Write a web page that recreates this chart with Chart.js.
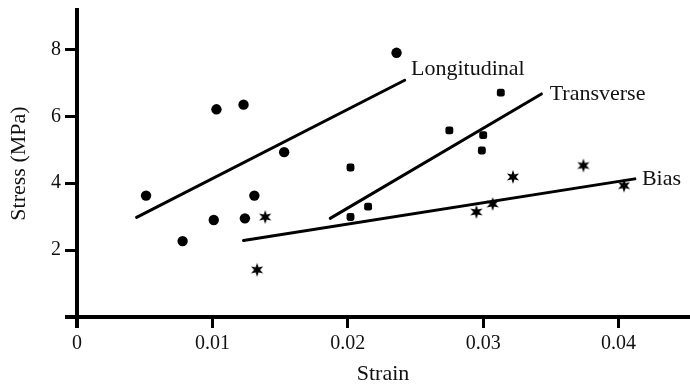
<!DOCTYPE html>
<html>
<head>
<meta charset="utf-8">
<script src="https://cdn.jsdelivr.net/npm/chart.js@4.4.1/dist/chart.umd.min.js"></script>
<style>
html,body{margin:0;padding:0;background:#fff;overflow:hidden}
#wrap{width:697px;height:388px;position:relative}
</style>
</head>
<body>
<div id="wrap"><canvas id="chart"></canvas></div>
<script>
// axis ticks
const xTicks=[0,0.01,0.02,0.03,0.04];
const yTicks=[0,2,4,6,8];
const xMax=0.0452, yMax=9.18;

// measured points
const longX=[0.0051,0.0078,0.0103,0.0101,0.0123,0.0124,0.0131,0.0153,0.0236];
const longY=[3.63,2.27,6.21,2.90,6.35,2.95,3.63,4.93,7.90];
const transX=[0.0202,0.0202,0.0215,0.0275,0.0300,0.0299,0.0313];
const transY=[2.99,4.47,3.30,5.58,5.44,4.98,6.71];
const biasX=[0.0133,0.0139,0.0295,0.0307,0.0322,0.0374,0.0404];
const biasY=[1.41,2.99,3.14,3.38,4.19,4.53,3.93];

// fitted lines (end points)
const longFitX=[0.0044,0.0242], longFitY=[2.98,7.08];
const transFitX=[0.0187,0.0343], transFitY=[2.95,6.67];
const biasFitX=[0.0123,0.0412], biasFitY=[2.29,4.13];

// curve labels, anchored at text baseline start
const labelText=["Longitudinal","Transverse","Bias"];
const labelX=[0.02467,0.03491,0.04172];
const labelY=[7.24,6.49,3.94];

const FONT="'Liberation Serif','Times New Roman',serif";
const pts=(xs,ys)=>xs.map((x,i)=>({x,y:ys[i]}));

// six pointed star marker
const star=document.createElement("canvas");
star.width=16; star.height=16;
(()=>{const c=star.getContext("2d"); c.fillStyle="#000"; c.beginPath();
  for(let i=0;i<12;i++){const r=i%2?3:7, a=-Math.PI/2+i*Math.PI/6;
    const px=8+r*Math.cos(a), py=8+r*Math.sin(a); i?c.lineTo(px,py):c.moveTo(px,py);}
  c.closePath(); c.fill();})();

const curveLabels={
  id:"curveLabels",
  afterDatasetsDraw(chart){
    const {ctx,scales:{x,y}}=chart;
    ctx.save();
    ctx.fillStyle="#111"; ctx.font="22px "+FONT; ctx.textBaseline="alphabetic"; ctx.textAlign="left";
    labelText.forEach((t,i)=>ctx.fillText(t,x.getPixelForValue(labelX[i]),y.getPixelForValue(labelY[i])));
    ctx.restore();
  }
};

const lineDs=(xs,ys)=>({data:pts(xs,ys),showLine:true,borderColor:"#000",borderWidth:3,pointRadius:0,fill:false,borderCapStyle:"round"});

new Chart(document.getElementById("chart"),{
  type:"scatter",
  data:{datasets:[
    lineDs(longFitX,longFitY),
    lineDs(transFitX,transFitY),
    lineDs(biasFitX,biasFitY),
    {label:"Longitudinal",data:pts(longX,longY),pointStyle:"circle",pointRadius:5.2,backgroundColor:"#000",borderColor:"#000",borderWidth:0},
    {label:"Transverse",data:pts(transX,transY),pointStyle:"rectRounded",pointRadius:4.6,backgroundColor:"#000",borderColor:"#000",borderWidth:0},
    {label:"Bias",data:pts(biasX,biasY),pointStyle:star,pointRadius:7}
  ]},
  options:{
    responsive:true, maintainAspectRatio:false, animation:false,
    layout:{padding:{top:10,right:0,left:0,bottom:0}},
    plugins:{legend:{display:false},tooltip:{enabled:false}},
    scales:{
      x:{type:"linear",min:0,max:xMax,
        afterBuildTicks:s=>{s.ticks=xTicks.map(v=>({value:v}));},
        afterFit:s=>{s.height=71; s.paddingRight=0;},
        border:{display:true,color:"#000",width:4},
        grid:{drawOnChartArea:false,drawTicks:true,tickLength:11,color:"#000",lineWidth:c=>c.tick&&c.tick.value===0?4:3},
        ticks:{color:"#111",padding:4,font:{family:FONT,size:20},maxRotation:0,callback:v=>v===0?"0":v.toFixed(2)},
        title:{display:true,text:"Strain",color:"#111",font:{family:FONT,size:22},padding:{top:0,bottom:1}}
      },
      y:{type:"linear",min:0,max:yMax,
        afterBuildTicks:s=>{s.ticks=yTicks.map(v=>({value:v}));},
        afterFit:s=>{s.width=77; s.paddingTop=0; s.paddingBottom=0;},
        border:{display:true,color:"#000",width:4},
        grid:{drawOnChartArea:false,drawTicks:true,tickLength:12,color:"#000",lineWidth:c=>c.tick&&c.tick.value===0?4:3},
        ticks:{color:"#111",padding:4,font:{family:FONT,size:20},callback:v=>v===0?"":String(v)},
        title:{display:true,text:"Stress (MPa)",color:"#111",font:{family:FONT,size:22},padding:{top:6,bottom:0}}
      }
    }
  },
  plugins:[curveLabels]
});
</script>
</body>
</html>
